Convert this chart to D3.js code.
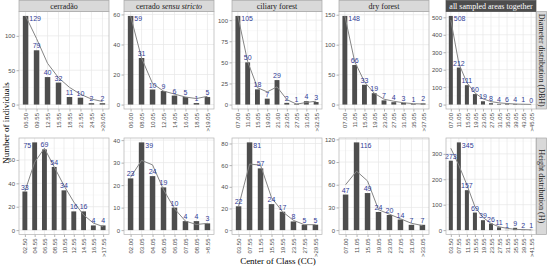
<!DOCTYPE html>
<html>
<head>
<meta charset="utf-8">
<script src="https://cdn.jsdelivr.net/npm/d3@7"></script>
<style>
  body { margin: 0; background: #fff; }
  svg { display: block; }
</style>
</head>
<body>
<svg id="chart"></svg>
<script>
// facet labels
const areas = ['cerradão', 'cerrado sensu stricto', 'ciliary forest', 'dry forest', 'all sampled areas together'];
const rowLabels = ['Diameter distribution (DBH)', 'Height distribution (H)'];

// diameter classes (top row)
const dbhClasses = [
    ['06.50','09.55','12.55','15.55','18.55','21.55','24.55','>26.05'],
    ['06.00','08.05','10.05','12.05','14.05','16.05','18.05','>19.05'],
    ['07.00','11.05','15.05','19.05','21.60','23.05','27.05','31.05','>32.55'],
    ['07.00','11.05','15.05','19.05','23.05','27.05','31.05','35.05','>37.05'],
    ['07.00','11.05','15.05','19.05','23.05','27.05','31.05','35.05','39.05','43.05','>45.05']
];
const dbhCounts = [
    [129,79,40,32,11,10,2,2],
    [59,31,10,9,6,5,1,5],
    [105,50,18,7,29,2,1,4,3],
    [148,66,33,19,7,4,3,1,2],
    [508,212,111,60,19,8,4,6,4,1,0]
];
const dbhFit = [
    [129,96,60,39,25,15,8,4.5],
    [59,31,14,9,7,5,4,5.5],
    [105,51,20,15,21,6,0.5,2.5,4],
    [148,72,38,19,9,5.5,3,1.5,1],
    [485,235,125,67,33,17,10,6,3,2,1]
];
const dbhTicks = [
    [0,50,100],
    [0,20,40,60],
    [0,25,50,75,100],
    [0,50,100,150],
    [0,100,200,300,400,500]
];

// height classes (bottom row)
const hClasses = [
    ['02.50','04.55','06.55','08.55','10.55','12.55','14.55','16.55','>17.55'],
    ['02.00','03.05','04.05','05.05','06.05','07.05','08.05','>8.55'],
    ['03.50','07.55','11.55','15.55','19.55','23.55','27.55','>29.55'],
    ['07.00','11.05','15.05','19.05','23.05','27.05','31.05','>33.05'],
    ['03.50','07.55','11.55','15.55','19.55','23.55','27.55','31.55','35.55','39.55','>41.55']
];
const hCounts = [
    [33,75,69,54,34,16,16,4,4],
    [23,39,24,19,10,4,4,3],
    [22,81,57,24,17,8,5,5],
    [47,116,49,24,20,14,7,7],
    [273,345,157,69,39,26,11,1,9,2,1]
];
const hFit = [
    [33,58,70,54,38,24,13,6,3],
    [23.5,31,29,18,9.5,4,2.5,3],
    [22,61,60,30,17,9,5,5],
    [60,78,65,27,21,15,9,6],
    [322,255,178,92,50,26,13,7,3,2,1]
];
const hTicks = [
    [0,20,40,60],
    [0,10,20,30,40],
    [0,20,40,60,80],
    [0,30,60,90,120],
    [0,100,200,300]
];

const width = 550, height = 268;
const colLeft = [19, 124, 232, 339, 446];
const colW = 90;
const rowTop = [11.5, 138];
const rowH = [97.5, 96.5];
const sans = '"Liberation Sans", Arial, sans-serif';
const serif = '"Liberation Serif", "Times New Roman", serif';

const svg = d3.select('#chart')
    .attr('width', width)
    .attr('height', height);

function drawPanel(r, c, classes, counts, fit, ticks) {
    const w = colW, h = rowH[r];
    const g = svg.append('g')
        .attr('transform', `translate(${colLeft[c]}, ${rowTop[r]})`);

    const xscale = d3.scalePoint().domain(classes).range([0, w]).padding(0.6);
    const M = d3.max(counts.concat(fit));
    const yscale = d3.scaleLinear().domain([-0.05 * M, 1.05 * M]).range([h, 0]);

    g.append('rect').attr('width', w).attr('height', h).attr('fill', '#fff');

    // minor grid
    const step = ticks[1] - ticks[0];
    const minor = d3.range(-1, ticks.length + 1).map(i => ticks[0] + step * (i + 0.5))
        .filter(v => v > yscale.domain()[0] && v < yscale.domain()[1]);
    g.selectAll('.minor').data(minor).join('line')
        .attr('x1', 0).attr('x2', w)
        .attr('y1', d => yscale(d)).attr('y2', d => yscale(d))
        .attr('stroke', '#f2f2f2').attr('stroke-width', 0.5);
    // major grid
    g.selectAll('.hmajor').data(ticks).join('line')
        .attr('x1', 0).attr('x2', w)
        .attr('y1', d => yscale(d)).attr('y2', d => yscale(d))
        .attr('stroke', '#e6e6e6').attr('stroke-width', 0.7);
    g.selectAll('.vmajor').data(classes).join('line')
        .attr('x1', d => xscale(d)).attr('x2', d => xscale(d))
        .attr('y1', 0).attr('y2', h)
        .attr('stroke', '#e6e6e6').attr('stroke-width', 0.7);

    // bars
    const bw = xscale.step() * 0.5;
    g.selectAll('.bar').data(counts).join('rect')
        .attr('x', (d, i) => xscale(classes[i]) - bw / 2)
        .attr('y', d => yscale(d))
        .attr('width', bw)
        .attr('height', d => yscale(0) - yscale(d))
        .attr('fill', '#4d4d4d');

    // fitted curve
    const line = d3.line()
        .x((d, i) => xscale(classes[i]))
        .y(d => yscale(d));
    g.append('path').datum(fit)
        .attr('d', line)
        .attr('fill', 'none')
        .attr('stroke', '#858585')
        .attr('stroke-width', 1);

    // value labels
    const imax = counts.indexOf(d3.max(counts));
    g.selectAll('.lab').data(counts).join('text')
        .attr('x', (d, i) => {
            const cx = xscale(classes[i]);
            if (i === imax) {
                const left = counts[i + 1] !== undefined && counts[i + 1] > 0.85 * counts[i];
                return left ? cx - bw / 2 - 1 : cx + bw / 2 + 1;
            }
            return cx;
        })
        .attr('y', (d, i) => i === imax ? yscale(d) + 5.5 : yscale(d) - 2)
        .attr('text-anchor', (d, i) => {
            if (i !== imax) return 'middle';
            const left = counts[i + 1] !== undefined && counts[i + 1] > 0.85 * counts[i];
            return left ? 'end' : 'start';
        })
        .attr('font-family', sans)
        .attr('font-size', 7)
        .attr('fill', '#313d96')
        .text(d => d);

    g.append('rect').attr('width', w).attr('height', h)
        .attr('fill', 'none').attr('stroke', '#b3b3b3').attr('stroke-width', 0.7);

    // axes
    const yaxis = d3.axisLeft(yscale).tickValues(ticks).tickSize(2.5).tickPadding(1.5);
    const ya = g.append('g').call(yaxis);
    const xaxis = d3.axisBottom(xscale).tickSize(2.5).tickPadding(1.5);
    const xa = g.append('g').attr('transform', `translate(0, ${h})`).call(xaxis);
    xa.selectAll('text')
        .attr('transform', 'rotate(-90)')
        .attr('text-anchor', 'end')
        .attr('x', -4)
        .attr('y', 0)
        .attr('dy', '0.35em');
    [ya, xa].forEach(a => {
        a.select('.domain').remove();
        a.selectAll('line').attr('stroke', '#b3b3b3');
        a.selectAll('text').attr('fill', '#4d4d4d').attr('font-size', 6).attr('font-family', sans);
    });
}

for (let c = 0; c < 5; c++) {
    drawPanel(0, c, dbhClasses[c], dbhCounts[c], dbhFit[c], dbhTicks[c]);
    drawPanel(1, c, hClasses[c], hCounts[c], hFit[c], hTicks[c]);
}

// top strips
areas.forEach((a, c) => {
    const dark = c === 4;
    svg.append('rect')
        .attr('x', colLeft[c]).attr('y', 0.5)
        .attr('width', colW).attr('height', rowTop[0] - 0.5)
        .attr('fill', dark ? '#4d4d4d' : '#d9d9d9')
        .attr('stroke', dark ? '#4d4d4d' : '#a6a6a6').attr('stroke-width', 0.7);
    const t = svg.append('text')
        .attr('x', colLeft[c] + colW / 2).attr('y', 8.8)
        .attr('text-anchor', 'middle')
        .attr('font-family', serif).attr('font-size', 8)
        .attr('fill', dark ? '#fff' : '#1a1a1a');
    if (a === 'cerrado sensu stricto') {
        t.append('tspan').text('cerrado ');
        t.append('tspan').attr('font-style', 'italic').text('sensu stricto');
    } else {
        t.text(a);
    }
});

// right strips
rowLabels.forEach((l, r) => {
    svg.append('rect')
        .attr('x', 536.5).attr('y', rowTop[r])
        .attr('width', 10).attr('height', rowH[r])
        .attr('fill', '#d9d9d9').attr('stroke', '#a6a6a6').attr('stroke-width', 0.7);
    svg.append('text')
        .attr('transform', `translate(541.5, ${rowTop[r] + rowH[r] / 2}) rotate(90)`)
        .attr('text-anchor', 'middle').attr('dy', '0.33em')
        .attr('font-family', serif).attr('font-size', 8).attr('fill', '#1a1a1a')
        .text(l);
});

// axis titles
svg.append('text')
    .attr('x', 278).attr('y', 264)
    .attr('text-anchor', 'middle')
    .attr('font-family', serif).attr('font-size', 9).attr('fill', '#000')
    .text('Center of Class (CC)');
svg.append('text')
    .attr('transform', 'translate(8.5, 123) rotate(-90)')
    .attr('text-anchor', 'middle')
    .attr('font-family', serif).attr('font-size', 9).attr('fill', '#000')
    .text('Number of individuals');
</script>
</body>
</html>
